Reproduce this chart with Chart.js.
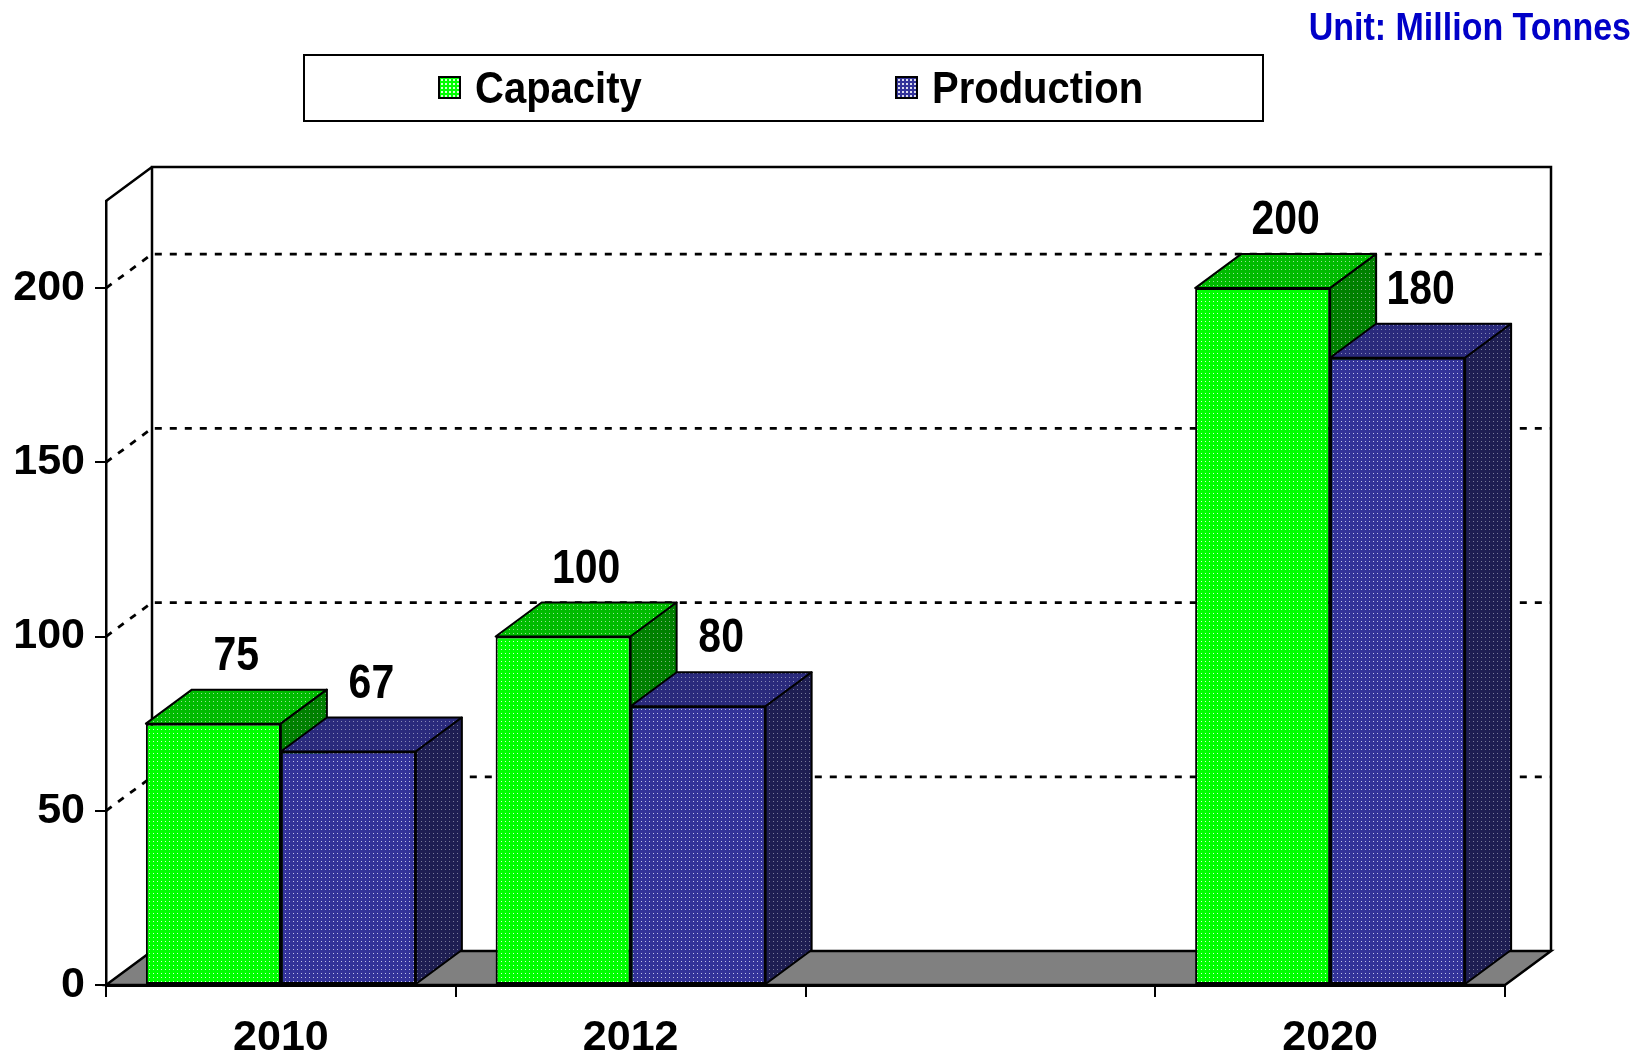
<!DOCTYPE html>
<html>
<head>
<meta charset="utf-8">
<script src="https://cdn.jsdelivr.net/npm/chart.js@4"></script>
<style>
  body { margin: 0; background: #fff; font-family: "Liberation Sans", Arial, sans-serif; }
  #wrap { position: relative; width: 1645px; height: 1058px; }
  #unit { position: absolute; right: 14px; top: 4px; color: #0000c8; font-weight: bold; font-size: 34px;
          transform: scaleY(1.15); transform-origin: top; }
  #legend { position: absolute; left: 303px; top: 54px; width: 957px; height: 64px; border: 2px solid #000; }
  .item { position: absolute; top: 11px; font-weight: bold; font-size: 40px; line-height: 40px; display: flex; align-items: center; }
  .item b { display: inline-block; transform: scaleY(1.12); }
  .sw { width: 19px; height: 19px; border: 2px solid #000; margin-right: 14px;
        background-image: radial-gradient(rgba(255,255,255,.85) 0.7px, transparent 1px); background-size: 4px 4px; }
</style>
</head>
<body>
<div id="wrap">
  <div id="unit">Unit: Million Tonnes</div>
  <div id="legend">
    <div class="item" style="left:133px"><span class="sw" style="background-color:#00ff00"></span><b>Capacity</b></div>
    <div class="item" style="left:590px"><span class="sw" style="background-color:#333399"></span><b>Production</b></div>
  </div>
  <canvas id="c" width="1645" height="1058"></canvas>
</div>
<script>
const years = ["2010", "2012", "", "2020"];
const capacity = [75, 100, null, 200];
const production = [67, 80, null, 180];

const DX = 46, DY = 34;
const FONT = '"Liberation Sans", Arial, sans-serif';

function dots(base, dot) {
  const c = document.createElement("canvas");
  c.width = 4; c.height = 4;
  const g = c.getContext("2d");
  g.fillStyle = base; g.fillRect(0, 0, 4, 4);
  g.fillStyle = dot; g.fillRect(1, 1, 1, 1);
  return g.createPattern(c, "repeat");
}

const faces = [
  { front: dots("#00ff00", "#d8ffd8"), top: dots("#00bb00", "#9adf9a"), side: dots("#008000", "#7fb07f") },
  { front: dots("#333399", "#c0c0e8"), top: dots("#2a2a7c", "#8888b8"), side: dots("#1e1e52", "#7a7a9a") },
];

function drawFaces(ctx, el, f) {
  const { x, y, width, base } = el.getProps(["x", "y", "width", "base"], true);
  const l = x - width / 2, r = x + width / 2;
  ctx.beginPath();
  ctx.moveTo(l, y);
  ctx.lineTo(l + DX, y - DY);
  ctx.lineTo(r + DX, y - DY);
  ctx.lineTo(r, y);
  ctx.closePath();
  ctx.fillStyle = f.top;
  ctx.fill();
  ctx.stroke();
  ctx.beginPath();
  ctx.moveTo(r, y);
  ctx.lineTo(r + DX, y - DY);
  ctx.lineTo(r + DX, base - DY);
  ctx.lineTo(r, base);
  ctx.closePath();
  ctx.fillStyle = f.side;
  ctx.fill();
  ctx.stroke();
}

const room = {
  id: "room",
  beforeDraw(chart) {
    const { ctx, chartArea: { left, right, top, bottom }, scales: { y } } = chart;
    ctx.save();
    ctx.strokeStyle = "#000";
    ctx.lineWidth = 2.5;
    // back wall + side wall top
    ctx.beginPath();
    ctx.moveTo(left + DX, bottom - DY);
    ctx.lineTo(left + DX, top - DY);
    ctx.lineTo(right + DX, top - DY);
    ctx.lineTo(right + DX, bottom - DY);
    ctx.moveTo(left, top);
    ctx.lineTo(left + DX, top - DY);
    ctx.stroke();
    // dotted grid
    ctx.lineWidth = 2.8;
    ctx.setLineDash([7, 8]);
    ctx.beginPath();
    y.ticks.forEach((t) => {
      if (t.value <= 0) return;
      const py = y.getPixelForValue(t.value);
      ctx.moveTo(left, py);
      ctx.lineTo(left + DX, py - DY);
      ctx.lineTo(right + DX, py - DY);
    });
    ctx.stroke();
    ctx.setLineDash([]);
    ctx.lineWidth = 2.5;
    // floor
    ctx.beginPath();
    ctx.moveTo(left, bottom);
    ctx.lineTo(right, bottom);
    ctx.lineTo(right + DX, bottom - DY);
    ctx.lineTo(left + DX, bottom - DY);
    ctx.closePath();
    ctx.fillStyle = "#808080";
    ctx.fill();
    ctx.stroke();
    ctx.restore();
  },
  afterDatasetsDraw(chart) {
    const { ctx } = chart;
    ctx.save();
    ctx.lineJoin = "round";
    // left-to-right: each later series repaints its front over the earlier side face
    chart.data.datasets.forEach((ds, di) => {
      chart.getDatasetMeta(di).data.forEach((el, i) => {
        if (ds.data[i] == null) return;
        if (di > 0) el.draw(ctx);
        ctx.strokeStyle = "#000";
        ctx.lineWidth = 2;
        drawFaces(ctx, el, faces[di]);
      });
    });
    ctx.fillStyle = "#000";
    ctx.font = "bold 41px " + FONT;
    ctx.textAlign = "center";
    ctx.textBaseline = "alphabetic";
    chart.data.datasets.forEach((ds, di) => {
      chart.getDatasetMeta(di).data.forEach((el, i) => {
        if (ds.data[i] == null) return;
        const { x, y } = el.getProps(["x", "y"], true);
        ctx.save();
        ctx.translate(x + DX / 2, y - DY - 20);
        ctx.scale(1, 1.18);
        ctx.fillText(String(ds.data[i]), 0, 0);
        ctx.restore();
      });
    });
    ctx.restore();
  },
};

new Chart(document.getElementById("c"), {
  type: "bar",
  data: {
    labels: years,
    datasets: [
      { label: "Capacity", data: capacity, backgroundColor: faces[0].front },
      { label: "Production", data: production, backgroundColor: faces[1].front },
    ],
  },
  options: {
    responsive: false,
    devicePixelRatio: 1,
    animation: false,
    layout: { padding: { top: 201, right: 140, left: 0, bottom: 0 } },
    datasets: {
      bar: {
        categoryPercentage: 0.772,
        barPercentage: 1,
        borderColor: "#000",
        borderWidth: 2,
        borderSkipped: false,
      },
    },
    plugins: { legend: { display: false }, tooltip: { enabled: false } },
    scales: {
      x: {
        afterFit: (s) => { s.height = 73; },
        grid: { drawOnChartArea: false, tickLength: 12, color: "#000", lineWidth: 2 },
        border: { display: true, color: "#000", width: 3, z: 1 },
        ticks: { color: "#000", padding: 15, font: { family: FONT, size: 43, weight: "bold" } },
      },
      y: {
        min: 0,
        max: 225,
        afterFit: (s) => { s.width = 106; },
        grid: { drawOnChartArea: false, tickLength: 11, color: "#000", lineWidth: 2 },
        border: { display: true, color: "#000", width: 2.5, z: 1 },
        ticks: { stepSize: 50, includeBounds: false, color: "#000", padding: 10, font: { family: FONT, size: 43, weight: "bold" } },
      },
    },
  },
  plugins: [room],
});
</script>
</body>
</html>
